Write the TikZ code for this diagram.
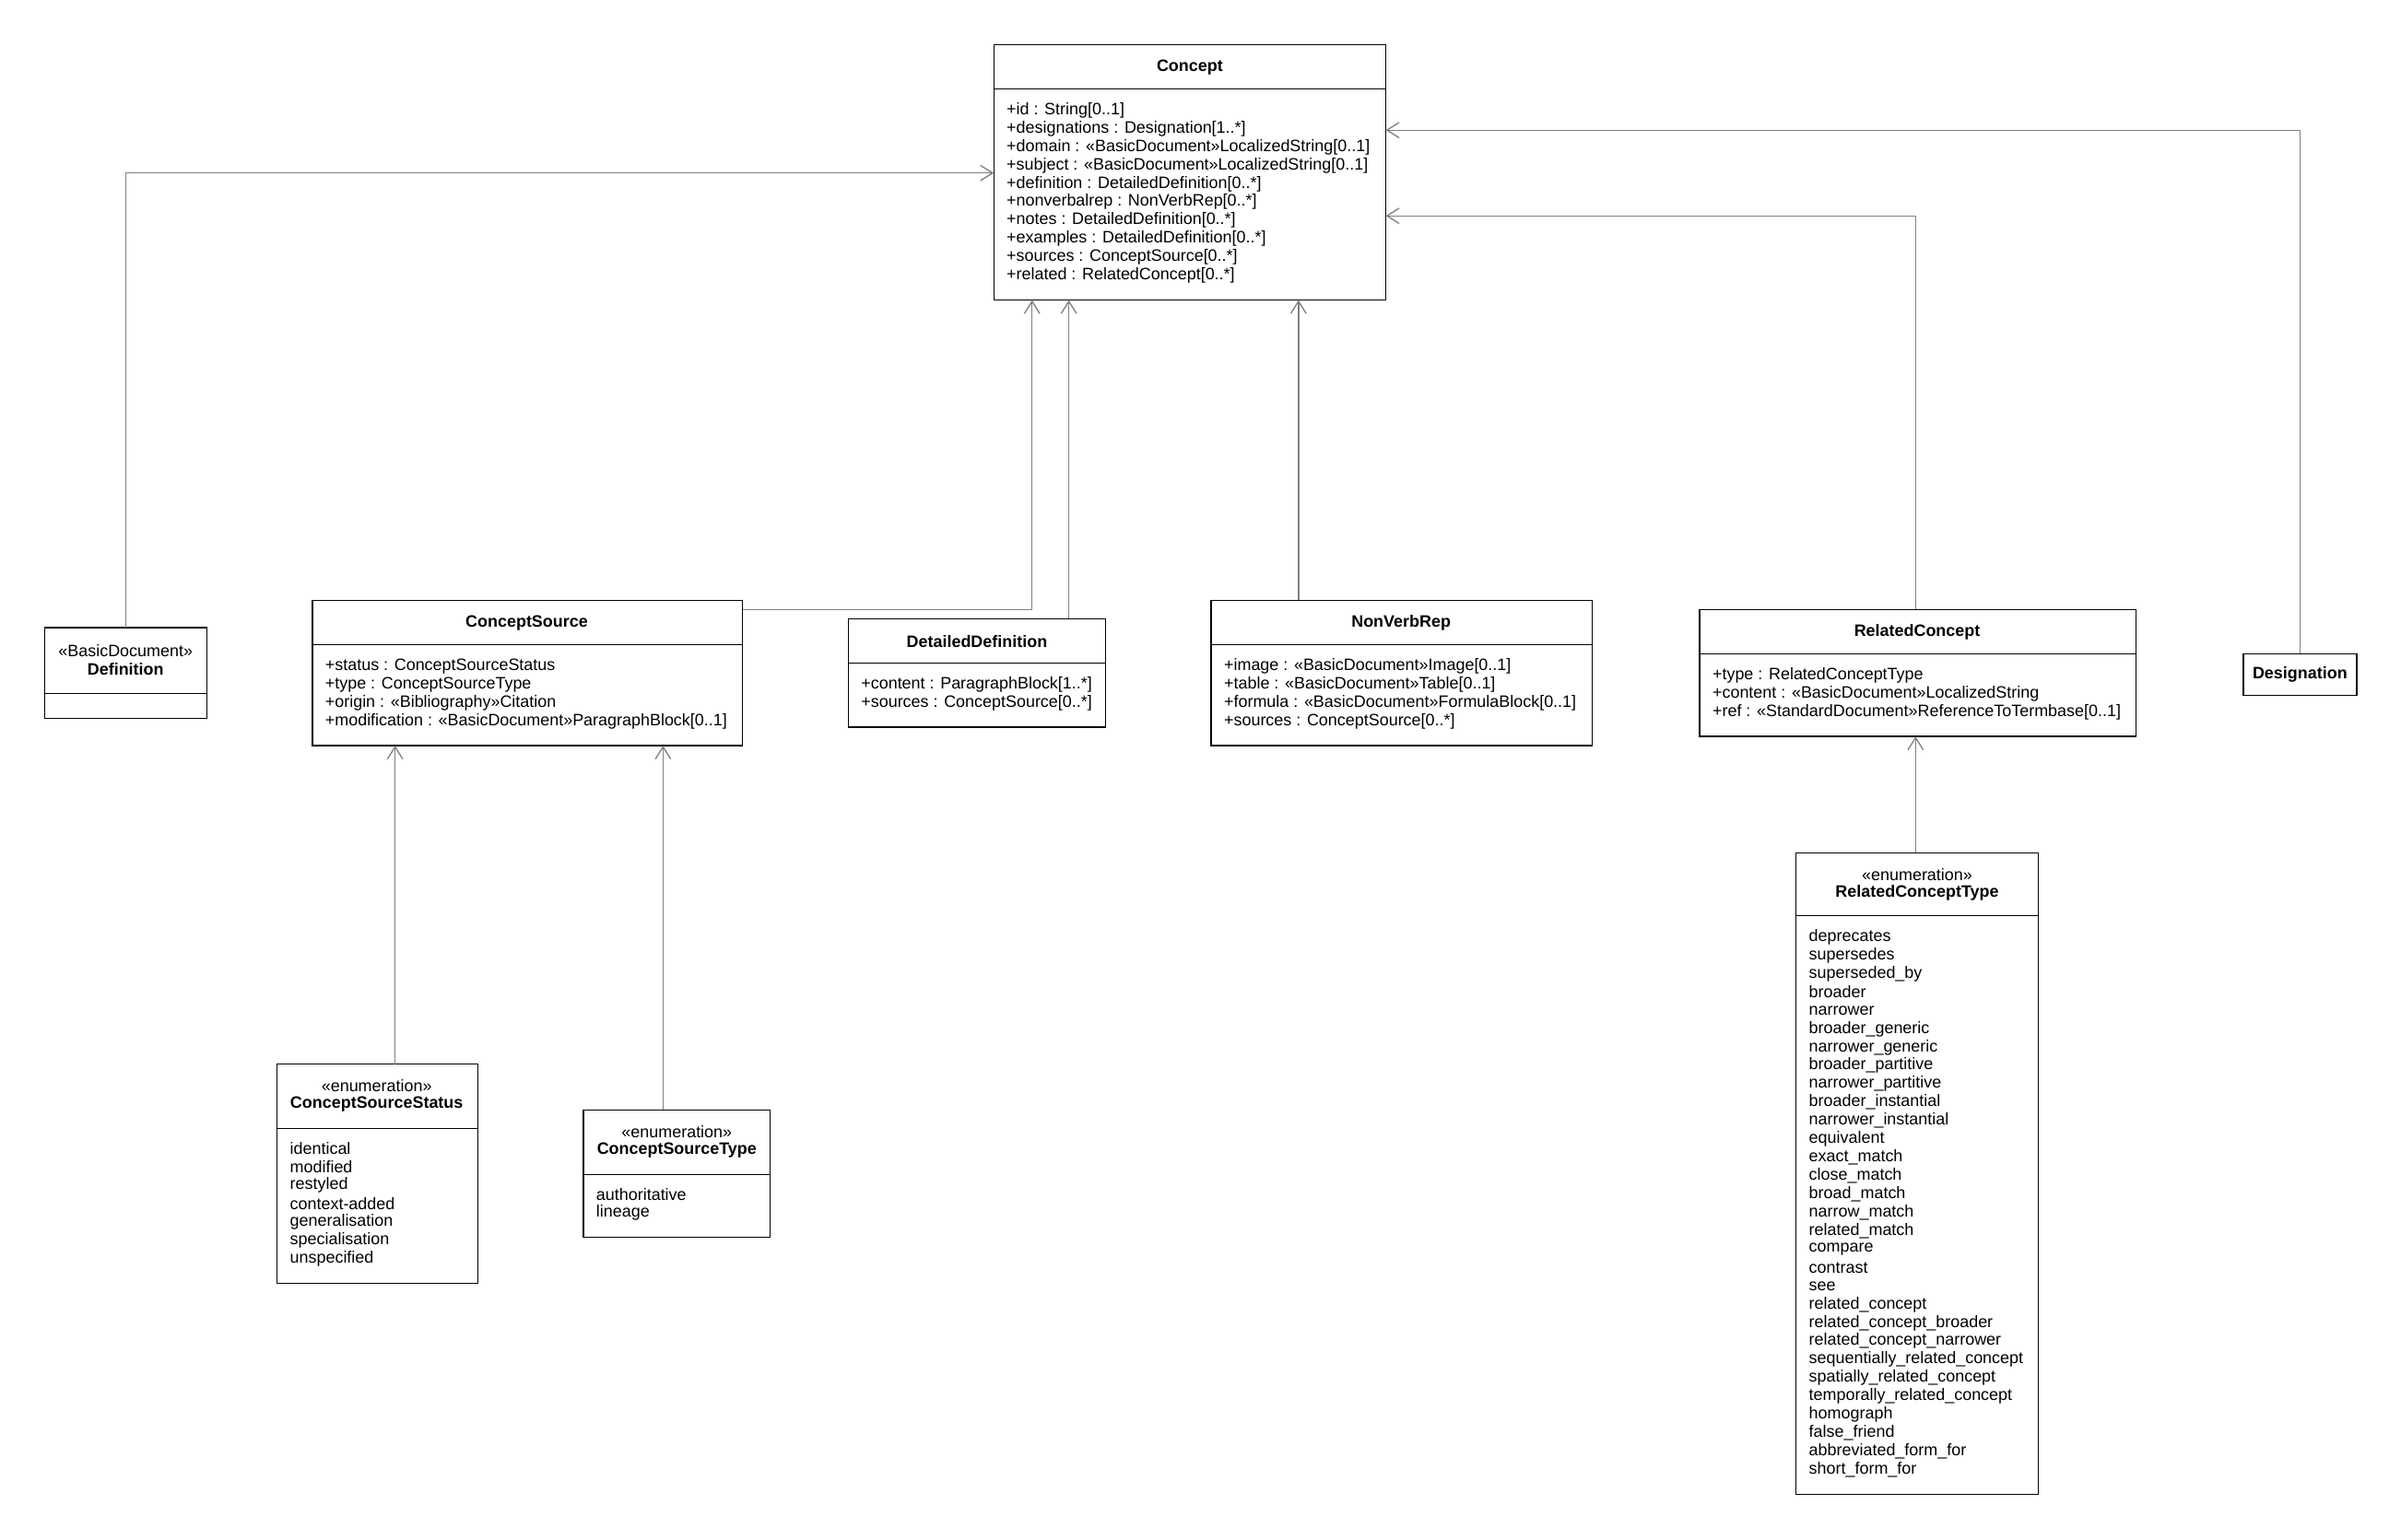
\documentclass[tikz,border=0pt]{standalone}
\usepackage{fontspec}
\setmainfont{Liberation Sans}
\usetikzlibrary{arrows.meta}
\tikzset{
  box/.style={rectangle, draw=black, line width=0.4pt, fill=white, inner sep=0pt, outer sep=0pt},
  head/.style={font=\fontsize{5.4}{6}\selectfont\bfseries, inner sep=0pt},
  stereo/.style={font=\fontsize{5.4}{6}\selectfont, inner sep=0pt},
  attr/.style={font=\fontsize{5.4}{6}\selectfont, anchor=west, inner sep=0pt},
  line/.style={draw=gray, line width=0.4pt, -{Straight Barb[length=4pt,width=5pt]}}
}
% box: name, x1, y1, x2, y2, y of separator
\newcommand\umlbox[6]{%
  \node[box, anchor=north west, minimum width={(#4-#2)*0.5pt}, minimum height={(#5-#3)*0.5pt}] (#1) at (#2,#3) {};
  \draw[line width=0.4pt] (#2,#6) -- (#4,#6);}
\begin{document}
\begin{tikzpicture}[x=0.5pt,y=-0.5pt]
\useasboundingbox[fill=white] (0,0) rectangle (1568,1005.8);
% classes
\umlbox{concept}{649}{29}{905}{196}{58}
\node[head] at (777,44) {Concept};
\foreach \t [count=\i] in {+id : String[0..1], +designations : Designation[1..*],
  +domain : «BasicDocument»LocalizedString[0..1], +subject : «BasicDocument»LocalizedString[0..1],
  +definition : DetailedDefinition[0..*], +nonverbalrep : NonVerbRep[0..*],
  +notes : DetailedDefinition[0..*], +examples : DetailedDefinition[0..*],
  +sources : ConceptSource[0..*], +related : RelatedConcept[0..*]}
  \node[attr] at (657,{72+12*(\i-1)}) {\t};

\umlbox{definition}{29}{410}{135}{469}{453}
\node[stereo] at (82,425) {«BasicDocument»};
\node[head] at (82,437) {Definition};

\umlbox{source}{204}{392}{485}{487}{421}
\node[head] at (344,407) {ConceptSource};
\foreach \t [count=\i] in {+status : ConceptSourceStatus, +type : ConceptSourceType,
  +origin : «Bibliography»Citation, +modification : «BasicDocument»ParagraphBlock[0..1]}
  \node[attr] at (212,{435+12*(\i-1)}) {\t};

\umlbox{detdef}{554}{404}{722}{475}{433}
\node[head] at (638,419) {DetailedDefinition};
\foreach \t [count=\i] in {+content : ParagraphBlock[1..*], +sources : ConceptSource[0..*]}
  \node[attr] at (562,{447+12*(\i-1)}) {\t};

\umlbox{nonverb}{791}{392}{1040}{487}{421}
\node[head] at (915,407) {NonVerbRep};
\foreach \t [count=\i] in {+image : «BasicDocument»Image[0..1], +table : «BasicDocument»Table[0..1],
  +formula : «BasicDocument»FormulaBlock[0..1], +sources : ConceptSource[0..*]}
  \node[attr] at (799,{435+12*(\i-1)}) {\t};

\umlbox{related}{1110}{398}{1395}{481}{427}
\node[head] at (1252,413) {RelatedConcept};
\foreach \t [count=\i] in {+type : RelatedConceptType, +content : «BasicDocument»LocalizedString,
  +ref : «StandardDocument»ReferenceToTermbase[0..1]}
  \node[attr] at (1118,{441+12*(\i-1)}) {\t};

\node[box, anchor=north west, minimum width={74*0.5pt}, minimum height={27*0.5pt}] (designation) at (1465,427) {};
\node[head] at (1502,440.5) {Designation};

\umlbox{status}{181}{695}{312}{838}{737}
\node[stereo] at (246,709) {«enumeration»};
\node[head] at (246,721) {ConceptSourceStatus};
\foreach \t [count=\i] in {identical, modified, restyled, context-added, generalisation,
  specialisation, unspecified}
  \node[attr] at (189,{750+12*(\i-1)}) {\t};

\umlbox{srctype}{381}{725}{503}{808}{767}
\node[stereo] at (442,739) {«enumeration»};
\node[head] at (442,751) {ConceptSourceType};
\foreach \t [count=\i] in {authoritative, lineage}
  \node[attr] at (389,{780+12*(\i-1)}) {\t};

\umlbox{reltype}{1173}{557}{1331}{976}{598}
\node[stereo] at (1252,571) {«enumeration»};
\node[head] at (1252,583) {RelatedConceptType};
\foreach \t [count=\i] in {deprecates, supersedes, superseded\_by, broader, narrower,
  broader\_generic, narrower\_generic, broader\_partitive, narrower\_partitive,
  broader\_instantial, narrower\_instantial, equivalent, exact\_match, close\_match,
  broad\_match, narrow\_match, related\_match, compare, contrast, see, related\_concept,
  related\_concept\_broader, related\_concept\_narrower, sequentially\_related\_concept,
  spatially\_related\_concept, temporally\_related\_concept, homograph, false\_friend,
  abbreviated\_form\_for, short\_form\_for}
  \node[attr] at (1181,{612+12*(\i-1)}) {\t};

% connectors
\draw[line] (definition.north) |- (concept.west |- 0,113);
\draw[line] (source.north east |- 0,398) -| (674,196);
\draw[line] (detdef.north -| 698,0) -- (698,196);
\draw[line] (nonverb.north -| 848,0) -- (848,196);
\draw[line] (related.north -| 1251,0) |- (concept.east |- 0,141);
\draw[line] (designation.north) |- (concept.east |- 0,85);
\draw[line] (status.north -| 258,0) -- (258,487);
\draw[line] (srctype.north -| 433,0) -- (433,487);
\draw[line] (reltype.north -| 1251,0) -- (1251,481);
\end{tikzpicture}
\end{document}
